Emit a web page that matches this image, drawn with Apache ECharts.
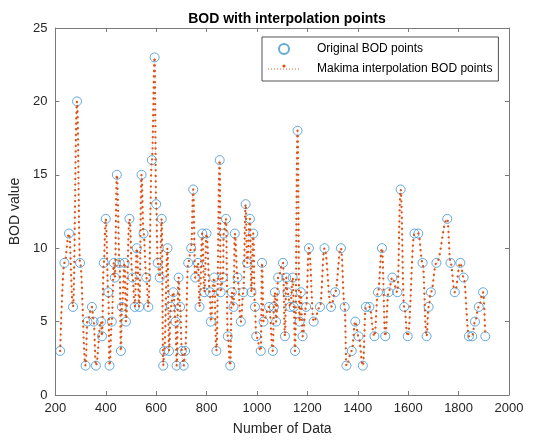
<!DOCTYPE html>
<html>
<head>
<meta charset="utf-8">
<script src="https://cdn.jsdelivr.net/npm/echarts@6/dist/echarts.min.js"></script>
<style>html,body{margin:0;padding:0;background:#fff}#c{width:535px;height:441px}</style>
</head>
<body>
<div id="c"></div>
<script>
// Original BOD points: x position (Number of Data) and BOD value
var dataIndex = [219,236,254,270,286,298,320,327,345,352,361,381,385,392,400,410,415,424,432,436,444,455,460,464,475,480,494,506,515,523,533,542,550,561,569,583,594,600,606,614,622,628,632,645,651,658,668,677,681,689,695,702,709,715,727,739,747,755,766,772,783,791,800,813,817,830,839,852,856,865,868,877,884,894,900,907,912,923,936,946,955,961,972,978,985,992,997,1015,1020,1026,1048,1063,1067,1071,1076,1084,1103,1111,1116,1121,1132,1142,1146,1151,1161,1169,1174,1181,1195,1206,1225,1250,1268,1294,1310,1333,1348,1355,1376,1390,1403,1420,1432,1446,1466,1480,1496,1509,1522,1537,1557,1570,1584,1598,1625,1640,1657,1673,1681,1690,1712,1755,1768,1785,1807,1820,1841,1854,1865,1880,1897,1906];
var bodValues = [3,9,11,6,20,9,2,5,6,5,2,5,4,9,12,7,2,5,9,8,15,9,3,6,9,5,12,8,6,10,6,15,11,8,6,16,23,13,9,8,12,2,3,10,3,6,7,5,2,8,6,3,2,3,9,10,14,8,9,6,11,7,11,7,5,8,3,16,7,8,11,12,4,2,7,6,11,8,5,7,13,9,12,7,11,6,4,3,9,5,6,3,6,7,5,8,9,4,8,7,6,8,6,3,18,5,7,4,6,10,5,6,10,6,7,10,6,2,3,5,4,2,6,6,4,7,10,4,7,8,7,14,6,4,11,11,9,4,6,7,9,12,9,7,9,8,4,4,5,6,7,4];
var xTicks = [200,2000,200];
var yTicks = [0,25,5];
var titleText = 'BOD with interpolation points';
var seriesNames = ['Original BOD points','Makima interpolation BOD points'];

var pts = dataIndex.map(function(x,i){return [x,bodValues[i]];});
var font = '"Liberation Sans", Arial, Helvetica, sans-serif';
var axisCol = '#262626';
var boxCol = '#7a7a7a';

// legend icon: dotted line with a dot in the middle (32 x 10 box)
var iconPath = 'path://';
for (var k = 0; k <= 31; k += 3) { iconPath += 'M' + k + ',4.6 h0.9 v0.8 h-0.9 Z '; }
iconPath += 'M16,0.4 a1.6,1.6 0 1,0 0.001,0 Z M0,0 h0.001 v0.001 Z M32,10 h-0.001 v-0.001 Z';

var chart = echarts.init(document.getElementById('c'), null, {renderer:'canvas'});
function xa(extra){
  return Object.assign({type:'value',min:xTicks[0],max:xTicks[1],interval:xTicks[2],
    axisLine:{show:true,onZero:false,lineStyle:{color:boxCol,width:1}},
    axisTick:{show:true,inside:true,length:4,lineStyle:{color:boxCol}},
    splitLine:{show:false}},extra);
}
function ya(extra){
  return Object.assign({type:'value',min:yTicks[0],max:yTicks[1],interval:yTicks[2],
    axisLine:{show:true,onZero:false,lineStyle:{color:boxCol,width:1}},
    axisTick:{show:true,inside:true,length:4,lineStyle:{color:boxCol}},
    splitLine:{show:false}},extra);
}
function plain(v){ return String(v); }
chart.setOption({
  animation:false,
  backgroundColor:'#fff',
  title:{text:titleText,left:282,textAlign:'center',top:7,
    textStyle:{fontFamily:font,fontSize:14,fontWeight:'bold',color:'#000'}},
  grid:{left:55,right:26,top:28,bottom:45,containLabel:false},
  legend:{orient:'vertical',left:262,top:37,itemWidth:32,itemHeight:10,itemGap:8,
    padding:[6,6,6,6],borderColor:'#262626',borderWidth:0.8,backgroundColor:'#fff',
    textStyle:{fontFamily:font,fontSize:12,color:'#000',padding:[0,0,0,12]},
    data:[{name:seriesNames[0]},{name:seriesNames[1],icon:iconPath,itemStyle:{color:'#D95319'}}]},
  xAxis:[
    xa({position:'bottom',name:'Number of Data',nameLocation:'middle',nameGap:27,
      nameTextStyle:{fontFamily:font,fontSize:14,color:axisCol},
      axisLabel:{fontFamily:font,fontSize:13,color:axisCol,margin:7,formatter:plain}}),
    xa({position:'top',axisLabel:{show:false}})
  ],
  yAxis:[
    ya({position:'left',name:'BOD value',nameLocation:'middle',nameGap:30,
      nameTextStyle:{fontFamily:font,fontSize:14,color:axisCol},
      axisLabel:{fontFamily:font,fontSize:13,color:axisCol,margin:8,formatter:plain}}),
    ya({position:'right',axisLabel:{show:false}})
  ],
  series:[
    {name:seriesNames[0],type:'scatter',data:pts,symbol:'circle',symbolSize:9,z:2,
      itemStyle:{color:'rgba(0,0,0,0)',borderColor:'#3f95d2',borderWidth:1}},
    {name:seriesNames[1],type:'line',data:pts,smooth:0.4,smoothMonotone:'x',z:3,
      symbol:'none',showSymbol:false,
      itemStyle:{color:'#D95319'},
      lineStyle:{color:'#D95319',width:2.3,type:[0.01,5.5],cap:'round'}},
    {name:seriesNames[1],type:'line',data:pts,smooth:0.4,smoothMonotone:'x',z:2,
      symbol:'none',showSymbol:false,
      lineStyle:{color:'#f0b79e',width:0.7,type:[1.2,1.6]}}
  ]
});
</script>
</body>
</html>
